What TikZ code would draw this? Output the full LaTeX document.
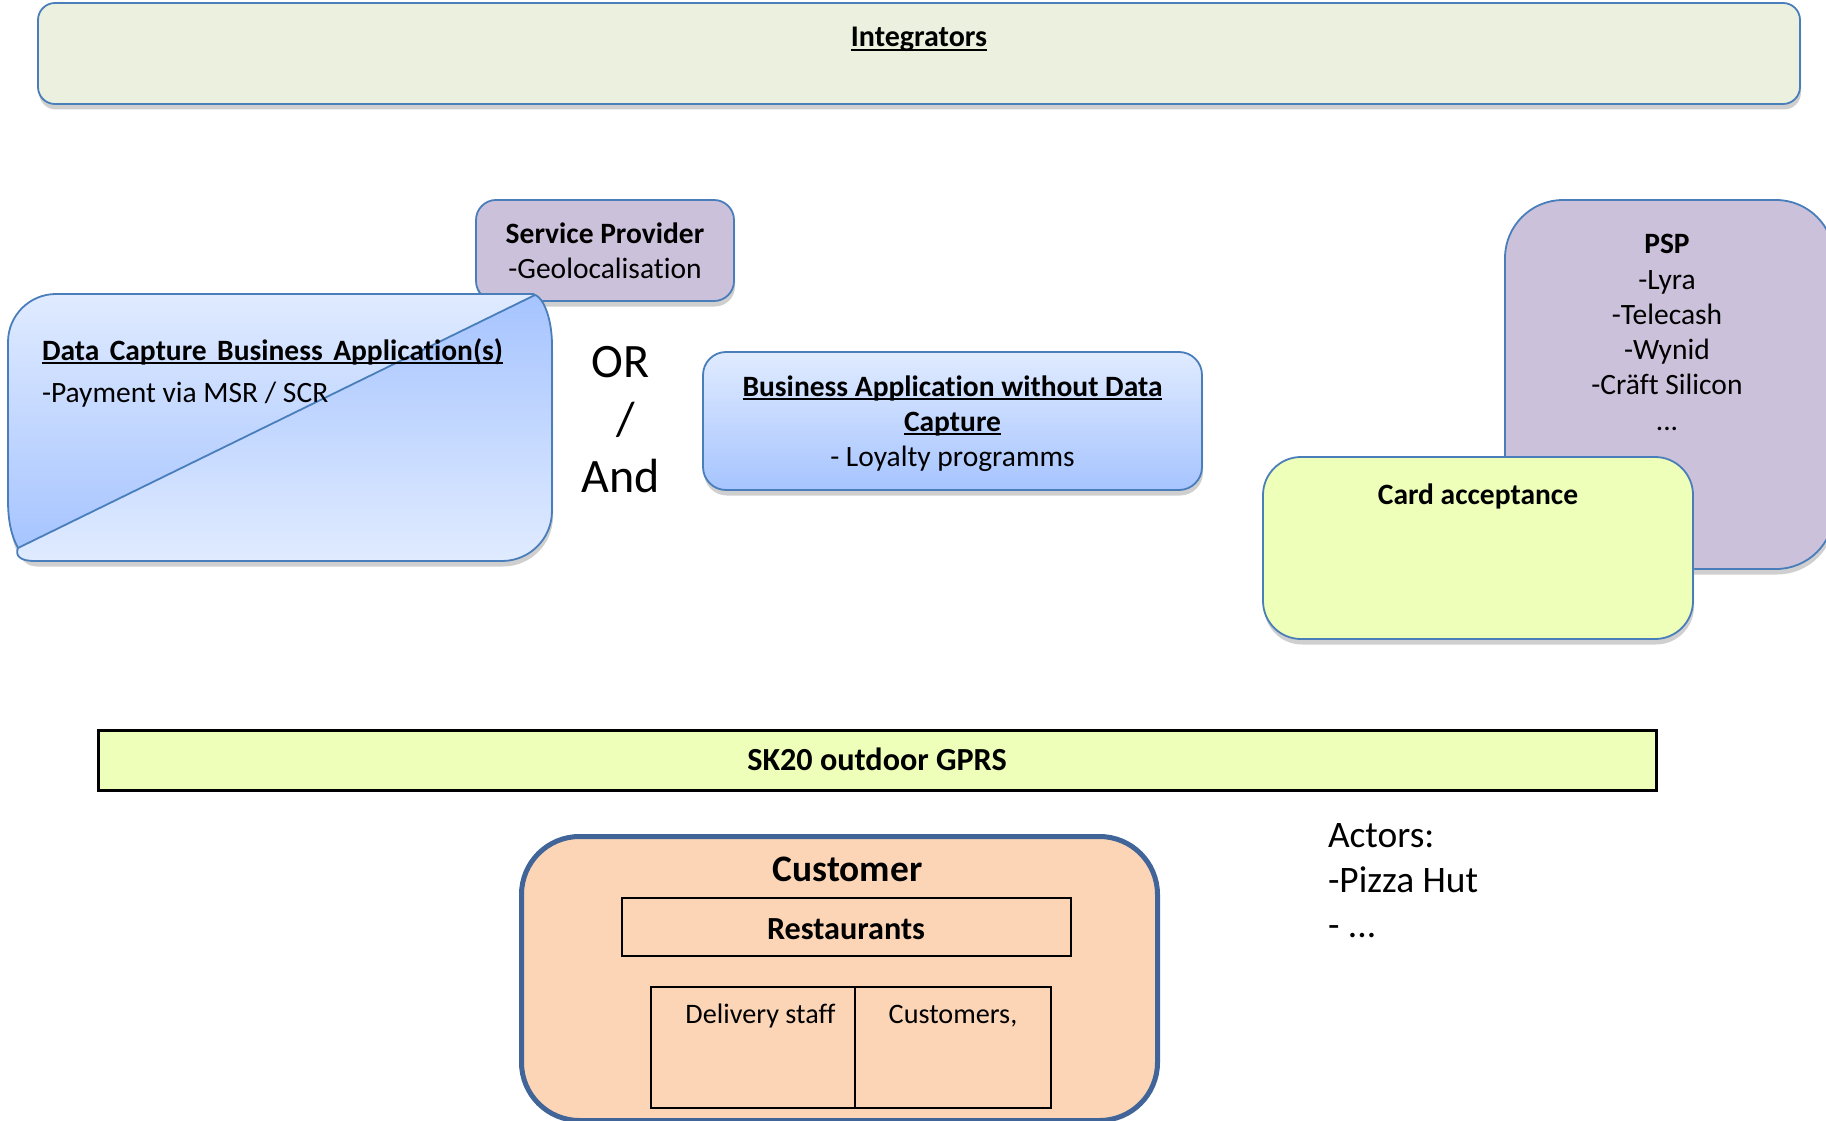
\documentclass[tikz,border=0pt]{standalone}
\usepackage{fontspec}
\setmainfont[Ligatures=NoCommon]{Carlito}
\usetikzlibrary{shadows}
\definecolor{edge}{HTML}{4A7EBB}
\definecolor{bluelt}{HTML}{E0EBFF}
\definecolor{bluedk}{HTML}{A6C4FF}
\definecolor{lime}{HTML}{EDFFB8}
\definecolor{lilac}{HTML}{CBC1DA}
\definecolor{peach}{HTML}{FBD5B5}
\definecolor{sage}{HTML}{EBF1DE}
\definecolor{shadowgray}{HTML}{CFCFCF}
\newcommand{\ulin}[1]{\leavevmode\setbox0\hbox{#1}\rlap{\rule[-3.6pt]{\wd0}{1.9pt}}\box0}
\tikzset{
  softshadow/.style={general shadow={shadow xshift=1pt,shadow yshift=-5.5pt,fill=shadowgray}},
  box/.style={draw=edge,line width=1.8pt,inner sep=0pt,outer sep=0pt,softshadow},
  flat/.style={draw=black,fill=none,inner sep=0pt,outer sep=0pt},
  txt/.style={anchor=base,inner sep=0pt,outer sep=0pt,font=\fontsize{29.5}{35}\selectfont},
  btxt/.style={txt,font=\fontsize{29.5}{35}\selectfont\bfseries},
  bigtxt/.style={txt,font=\fontsize{48}{56}\selectfont},
  actor/.style={txt,anchor=base west,font=\fontsize{37.4}{45}\selectfont},
}
\begin{document}
\begin{tikzpicture}[x=1pt,y=-1pt]
\useasboundingbox (0,0) rectangle (1826,1121);
\clip (0,0) rectangle (1826,1121);
% Integrators
\node[box,fill=sage,rounded corners=17pt,minimum width=1762pt,minimum height=101pt] (integ) at (919,53.5) {};
\node[btxt,font=\fontsize{30}{35}\selectfont\bfseries] (integt) at (919,47) {\ulin{Integrators}};
% Service provider
\node[box,fill=lilac,rounded corners=20pt,minimum width=258pt,minimum height=101pt] (sp) at (605,250.5) {};
\node[btxt] (spa) at (605,243) {Service Provider};
\node[txt] (spb) at (605,278) {-Geolocalisation};
% Data capture: shadow, then two shaded halves
\fill[shadowgray,xshift=1pt,yshift=-5.5pt]
  (56,294) -- (533,294) .. controls (545,297) and (552,322) .. (552,345) -- (552,511)
  arc[start angle=0,end angle=90,radius=50] -- (35,561) .. controls (20,561) and (8,540) .. (8,500)
  -- (8,342) arc[start angle=180,end angle=270,radius=48] -- cycle;
\path[top color=bluelt,bottom color=bluedk]
  (56,294) -- (535,294) -- (18,548) .. controls (11,535) and (8,520) .. (8,500)
  -- (8,342) arc[start angle=180,end angle=270,radius=48] -- cycle;
\path[top color=bluedk,bottom color=bluelt]
  (535,295) .. controls (545,299) and (552,322) .. (552,345) -- (552,511)
  arc[start angle=0,end angle=90,radius=50] -- (35,561) .. controls (20,561) and (15,556) .. (18,548) -- cycle;
\draw[edge,line width=1.8pt,line join=round]
  (56,294) -- (533,294) .. controls (545,297) and (552,322) .. (552,345) -- (552,511)
  arc[start angle=0,end angle=90,radius=50] -- (35,561) .. controls (20,561) and (15,556) .. (18,548)
  -- (535,295);
\draw[edge,line width=1.8pt,line join=round]
  (18,548) .. controls (11,535) and (8,520) .. (8,500)
  -- (8,342) arc[start angle=180,end angle=270,radius=48];
\node[btxt,anchor=base west] (dca) at (42,360) {\ulin{\makebox[461pt][s]{Data Capture Business Application(s)}}};
\node[txt,anchor=base west] (dcb) at (42,402) {-Payment via MSR / SCR};
% OR / And
\node[bigtxt] (or) at (620.5,377) {OR};
\node[bigtxt] (sl) at (625.5,435) {/};
\node[bigtxt] (and) at (620.5,492) {And};
% Business application
\node[box,top color=bluelt,bottom color=bluedk,rounded corners=23pt,minimum width=499pt,minimum height=138pt] (ba) at (952.5,421) {};
\node[btxt] (baa) at (952.5,396) {\ulin{Business Application without Data}};
\node[btxt] (bab) at (952.5,431) {\ulin{Capture}};
\node[txt] (bac) at (952.5,466) {- Loyalty programms};
% PSP
\node[box,fill=lilac,rounded corners=58pt,minimum width=329pt,minimum height=369pt] (psp) at (1669.5,384.5) {};
\node[btxt] (pa) at (1667,253) {PSP};
\node[txt] (pb) at (1667,289) {-Lyra};
\node[txt] (pc) at (1667,324) {-Telecash};
\node[txt] (pd) at (1667,359) {-Wynid};
\node[txt] (pe) at (1667,394) {-Cräft Silicon};
\node[txt] (pf) at (1667,430) {...};
% Card acceptance
\node[box,fill=lime,rounded corners=38pt,minimum width=430pt,minimum height=182pt] (card) at (1478,548) {};
\node[btxt] (cardt) at (1478,504) {Card acceptance};
% SK20
\node[draw=black,line width=3pt,fill=lime,inner sep=0pt,minimum width=1558pt,minimum height=60pt] (sk) at (877,760) {};
\node[btxt,font=\fontsize{32.2}{40}\selectfont\bfseries] (skt) at (877,770) {SK20 outdoor GPRS};
% Customer
\node[draw={rgb,255:red,65;green,101;blue,152},line width=5pt,fill=peach,inner sep=0pt,rounded corners=58pt,minimum width=636pt,minimum height=284pt] (cust) at (839.5,978.5) {};
\node[btxt,font=\fontsize{37.4}{45}\selectfont\bfseries] (custt) at (847.5,881) {Customer};
\node[flat,line width=2pt,minimum width=449pt,minimum height=58pt] (rest) at (846,927) {};
\node[btxt,font=\fontsize{32.2}{40}\selectfont\bfseries] (restt) at (846,939) {Restaurants};
\node[flat,line width=2pt,minimum width=204pt,minimum height=121pt] (del) at (753,1047) {};
\node[flat,line width=2pt,minimum width=196pt,minimum height=121pt] (cu) at (953,1047) {};
\node[txt,font=\fontsize{28.2}{34}\selectfont] (delt) at (760.5,1023) {Delivery staff};
\node[txt,font=\fontsize{28.2}{34}\selectfont] (cut) at (953,1023) {Customers,};
% Actors
\node[actor] (aa) at (1328,847) {Actors:};
\node[actor] (ab) at (1328,892) {-Pizza Hut};
\node[actor] (ac) at (1328,937) {- ...};
\end{tikzpicture}
\end{document}
